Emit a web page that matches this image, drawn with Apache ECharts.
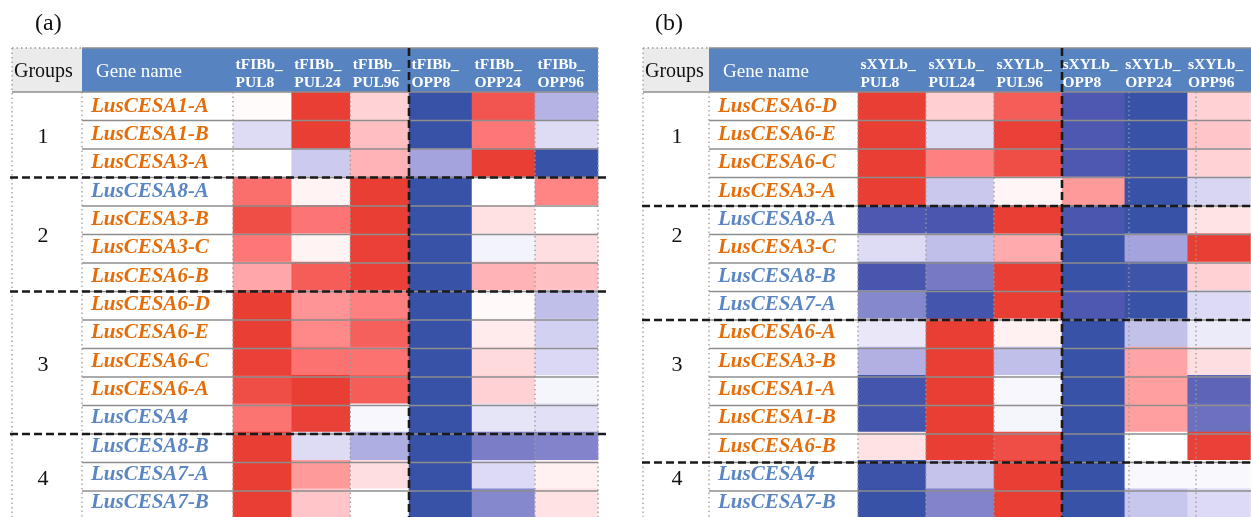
<!DOCTYPE html>
<html>
<head>
<meta charset="utf-8">
<script src="https://cdn.jsdelivr.net/npm/echarts@6/dist/echarts.min.js"></script>
<style>
  html, body { margin: 0; padding: 0; background: #ffffff; }
  #chart { width: 1251px; height: 517px; }
</style>
</head>
<body>
<div id="chart"></div>
<script>
// ---- Data ---------------------------------------------------------------
// Gene order and group membership, panel (a): bast fibres
const genesA = ['LusCESA1-A', 'LusCESA1-B', 'LusCESA3-A',
  'LusCESA8-A', 'LusCESA3-B', 'LusCESA3-C', 'LusCESA6-B',
  'LusCESA6-D', 'LusCESA6-E', 'LusCESA6-C', 'LusCESA6-A', 'LusCESA4',
  'LusCESA8-B', 'LusCESA7-A', 'LusCESA7-B'];
const groupsA = [1, 1, 1, 2, 2, 2, 2, 3, 3, 3, 3, 3, 4, 4, 4];

// Gene order and group membership, panel (b): xylem
const genesB = ['LusCESA6-D', 'LusCESA6-E', 'LusCESA6-C', 'LusCESA3-A',
  'LusCESA8-A', 'LusCESA3-C', 'LusCESA8-B', 'LusCESA7-A',
  'LusCESA6-A', 'LusCESA3-B', 'LusCESA1-A', 'LusCESA1-B', 'LusCESA6-B',
  'LusCESA4', 'LusCESA7-B'];
const groupsB = [1, 1, 1, 1, 2, 2, 2, 2, 3, 3, 3, 3, 3, 4, 4];

// Column headers: sample prefix + condition + hours
const prefixA = 'tFIBb_';
const prefixB = 'sXYLb_';
const pulColumns = ['PUL8', 'PUL24', 'PUL96'];
const oppColumns = ['OPP8', 'OPP24', 'OPP96'];

// Relative expression (-1 = lowest, +1 = highest); columns PUL8..96, OPP8..96
const valuesA = [
  [ 0.02,  1.00,  0.22, -1.00,  0.85, -0.35],
  [-0.17,  1.00,  0.33, -1.00,  0.65, -0.17],
  [ 0.00, -0.25,  0.40, -0.42,  1.00, -1.00],
  [ 0.70,  0.06,  1.00, -1.00,  0.00,  0.58],
  [ 0.90,  0.66,  1.00, -1.00,  0.15,  0.00],
  [ 0.65,  0.06,  0.98, -1.00, -0.06,  0.16],
  [ 0.45,  0.80,  0.98, -1.00,  0.40,  0.32],
  [ 1.00,  0.52,  0.60, -1.00,  0.03, -0.30],
  [ 1.00,  0.57,  0.78, -1.00,  0.10, -0.22],
  [ 0.98,  0.68,  0.68, -1.00,  0.18, -0.19],
  [ 0.90,  1.00,  0.80, -1.00,  0.23, -0.05],
  [ 0.67,  0.98, -0.04, -1.00, -0.13, -0.15],
  [ 1.00, -0.17, -0.37, -1.00, -0.60, -0.57],
  [ 1.00,  0.50,  0.16, -1.00, -0.18,  0.07],
  [ 1.00,  0.30,  0.00, -1.00, -0.55,  0.14]
];
const valuesB = [
  [ 1.00,  0.24,  0.80, -0.80, -1.00,  0.23],
  [ 1.00, -0.17,  0.98, -0.80, -1.00,  0.30],
  [ 1.00,  0.60,  0.90, -0.80, -1.00,  0.22],
  [ 1.00, -0.26,  0.05,  0.50, -1.00, -0.20],
  [-0.80, -0.85,  1.00, -0.85, -1.00,  0.13],
  [-0.17, -0.30,  0.43, -1.00, -0.42,  1.00],
  [-0.86, -0.62,  1.00, -1.00, -0.95,  0.23],
  [-0.55, -0.90,  1.00, -0.80, -1.00, -0.18],
  [-0.11,  1.00,  0.07, -1.00, -0.29, -0.10],
  [-0.36,  1.00, -0.30, -1.00,  0.46,  0.16],
  [-0.90,  1.00, -0.04, -1.00,  0.48, -0.73],
  [-0.90,  1.00, -0.05, -1.00,  0.48, -0.67],
  [ 0.14,  1.00,  0.90, -1.00,  0.00,  0.98],
  [-0.96, -0.28,  1.00, -1.00, -0.03, -0.03],
  [-1.00, -0.57,  1.00, -1.00, -0.27, -0.18]
];

// ---- Layout and style ---------------------------------------------------
const FONT = "'Liberation Serif', 'Times New Roman', serif";
const HEAD_TOP = 48;
const GRID_TOP = 92;
const ROW_H = 28.5;
const CANVAS_H = 517;
const ORANGE = '#e46d0a';
const BLUE_TXT = '#5a86c3';
const HEAD_BLUE = '#5784c1';
const RULE_GRAY = '#8e8e8e';
// group numbers sit at these row offsets in both panels
const groupLabelRows = [1.5, 5, 9.5, 13.5];

const panels = [
  { tag: '(a)', tagX: 35, prefix: prefixA, genes: genesA, groups: groupsA, values: valuesA,
    groupsL: 12, geneL: 82, heatL: 233, split: 409, heatR: 598, textL: 91,
    sepL: 10, sepR: 610, numX: 43, dotPUL: [2], dotOPP: [2, 3] },
  { tag: '(b)', tagX: 655, prefix: prefixB, genes: genesB, groups: groupsB, values: valuesB,
    groupsL: 643, geneL: 709, heatL: 858, split: 1062, heatR: 1263, textL: 718,
    sepL: 642, sepR: 1251, numX: 677, dotPUL: [1, 2], dotOPP: [1, 2] }
];

// CESA1/3/6 in orange, CESA4/7/8 in blue
const familyKey = g => /CESA[136]/.test(g) ? 'o' : 'b';

const geneRich = {
  o: { color: ORANGE, fontFamily: FONT, fontWeight: 'bold', fontStyle: 'italic', fontSize: 21 },
  b: { color: BLUE_TXT, fontFamily: FONT, fontWeight: 'bold', fontStyle: 'italic', fontSize: 21 }
};

const grids = [], xAxes = [], yAxes = [], series = [], graphics = [];

function line(x1, y1, x2, y2, stroke, width, dash) {
  graphics.push({ type: 'line', z: 100, silent: true,
    shape: { x1, y1, x2, y2 },
    style: { stroke, lineWidth: width, lineDash: dash || null } });
}
function text(x, y, str, font, fill, align) {
  graphics.push({ type: 'text', z: 101, silent: true, x, y,
    style: { text: str, font, fill, textAlign: align || 'left', textVerticalAlign: 'middle' } });
}

panels.forEach(p => {
  const n = p.genes.length;
  const gridH = n * ROW_H;
  const blocks = [
    { cols: pulColumns, left: p.heatL, right: p.split, offset: 0, labels: true },
    { cols: oppColumns, left: p.split, right: p.heatR, offset: 3, labels: false }
  ];
  blocks.forEach(b => {
    const gi = grids.length;
    const colW = (b.right - b.left) / b.cols.length;
    grids.push({ left: b.left, top: GRID_TOP, width: b.right - b.left, height: gridH });
    xAxes.push({
      gridIndex: gi, type: 'category', position: 'top', data: b.cols,
      axisLine: { show: false }, axisTick: { show: false }, splitLine: { show: false },
      axisLabel: {
        interval: 0, margin: 0,
        formatter: v => `{h|${p.prefix}}\n{h|${v}}`,
        rich: { h: { width: colW - 5, align: 'left', color: '#ffffff', fontFamily: FONT,
                     fontWeight: 'bold', fontSize: 15.5, lineHeight: 18 } }
      }
    });
    yAxes.push({
      gridIndex: gi, type: 'category', data: p.genes, inverse: true,
      axisLine: { show: false }, axisTick: { show: false }, splitLine: { show: false },
      axisLabel: {
        show: b.labels, interval: 0, align: 'left', margin: p.heatL - p.textL,
        formatter: v => `{${familyKey(v)}|${v}}`, rich: geneRich
      }
    });
    const data = [];
    p.values.forEach((row, i) => {
      for (let j = 0; j < b.cols.length; j++) data.push([j, i, row[j + b.offset]]);
    });
    series.push({
      type: 'heatmap', xAxisIndex: gi, yAxisIndex: gi, data,
      itemStyle: { borderWidth: 0 }, emphasis: { disabled: true },
      progressive: 0, animation: false
    });
    // dotted column separators inside the block
    (b === blocks[0] ? p.dotPUL : p.dotOPP).forEach(k => {
      const x = b.left + k * colW;
      line(x, k === 3 ? HEAD_TOP : GRID_TOP, x, CANVAS_H, '#9a9a9a', 1.3, [1.5, 3]);
    });
  });

  // panel tag
  text(p.tagX, 24, p.tag, `24px ${FONT}`, '#111111');

  // header cells
  graphics.push({ type: 'rect', z: -10, silent: true,
    shape: { x: p.groupsL, y: HEAD_TOP, width: p.geneL - p.groupsL, height: GRID_TOP - HEAD_TOP },
    style: { fill: '#ebebeb' } });
  graphics.push({ type: 'rect', z: -10, silent: true,
    shape: { x: p.geneL, y: HEAD_TOP, width: p.heatR - p.geneL, height: GRID_TOP - HEAD_TOP },
    style: { fill: HEAD_BLUE } });
  text(p.groupsL + 2, 72, 'Groups', `20px ${FONT}`, '#111111');
  text(p.geneL + 14, 72, 'Gene name', `19px ${FONT}`, '#ffffff');

  // header rules
  line(p.geneL, HEAD_TOP, p.heatR, HEAD_TOP, RULE_GRAY, 1.5);
  line(p.groupsL, HEAD_TOP, p.geneL, HEAD_TOP, '#9a9a9a', 1.3, [1.5, 3]);
  line(p.groupsL, GRID_TOP, p.heatR, GRID_TOP, RULE_GRAY, 1.5);

  // dotted verticals of the table frame
  line(p.groupsL, HEAD_TOP, p.groupsL, CANVAS_H, '#9a9a9a', 1.3, [1.5, 3]);
  line(p.geneL, GRID_TOP, p.geneL, CANVAS_H, '#9a9a9a', 1.3, [1.5, 3]);
  line(p.heatL, GRID_TOP, p.heatL, CANVAS_H, '#9a9a9a', 1.3, [1.5, 3]);

  // row rules and dashed group separators
  for (let i = 1; i < n; i++) {
    const y = GRID_TOP + i * ROW_H;
    line(p.geneL, y, p.heatR, y, RULE_GRAY, 1.6);
    if (p.groups[i] !== p.groups[i - 1]) {
      line(p.sepL, y, p.sepR, y, '#1a1a1a', 2.6, [8, 4]);
    }
  }

  // vertical dashed divider between PUL and OPP
  line(p.split, HEAD_TOP, p.split, CANVAS_H, '#1a1a1a', 2.6, [8, 4]);

  // group numbers
  const groupIds = [...new Set(p.groups)];
  groupIds.forEach((g, k) => {
    text(p.numX, GRID_TOP + groupLabelRows[k] * ROW_H + 2, String(g), `22px ${FONT}`, '#111111', 'center');
  });
});

const chart = echarts.init(document.getElementById('chart'), null, { renderer: 'canvas' });
chart.setOption({
  backgroundColor: '#ffffff',
  animation: false,
  grid: grids,
  xAxis: xAxes,
  yAxis: yAxes,
  visualMap: {
    type: 'continuous', show: false, min: -1, max: 1, dimension: 2,
    seriesIndex: series.map((s, i) => i),
    inRange: { color: ['#3752a7', '#4f58b0', '#7b7dc7', '#a8a7df', '#d8d6f3', '#ffffff',
                       '#ffd6d9', '#ffb3b6', '#ff8080', '#f55d58', '#e83e33'] }
  },
  series,
  graphic: graphics
});
</script>
</body>
</html>
